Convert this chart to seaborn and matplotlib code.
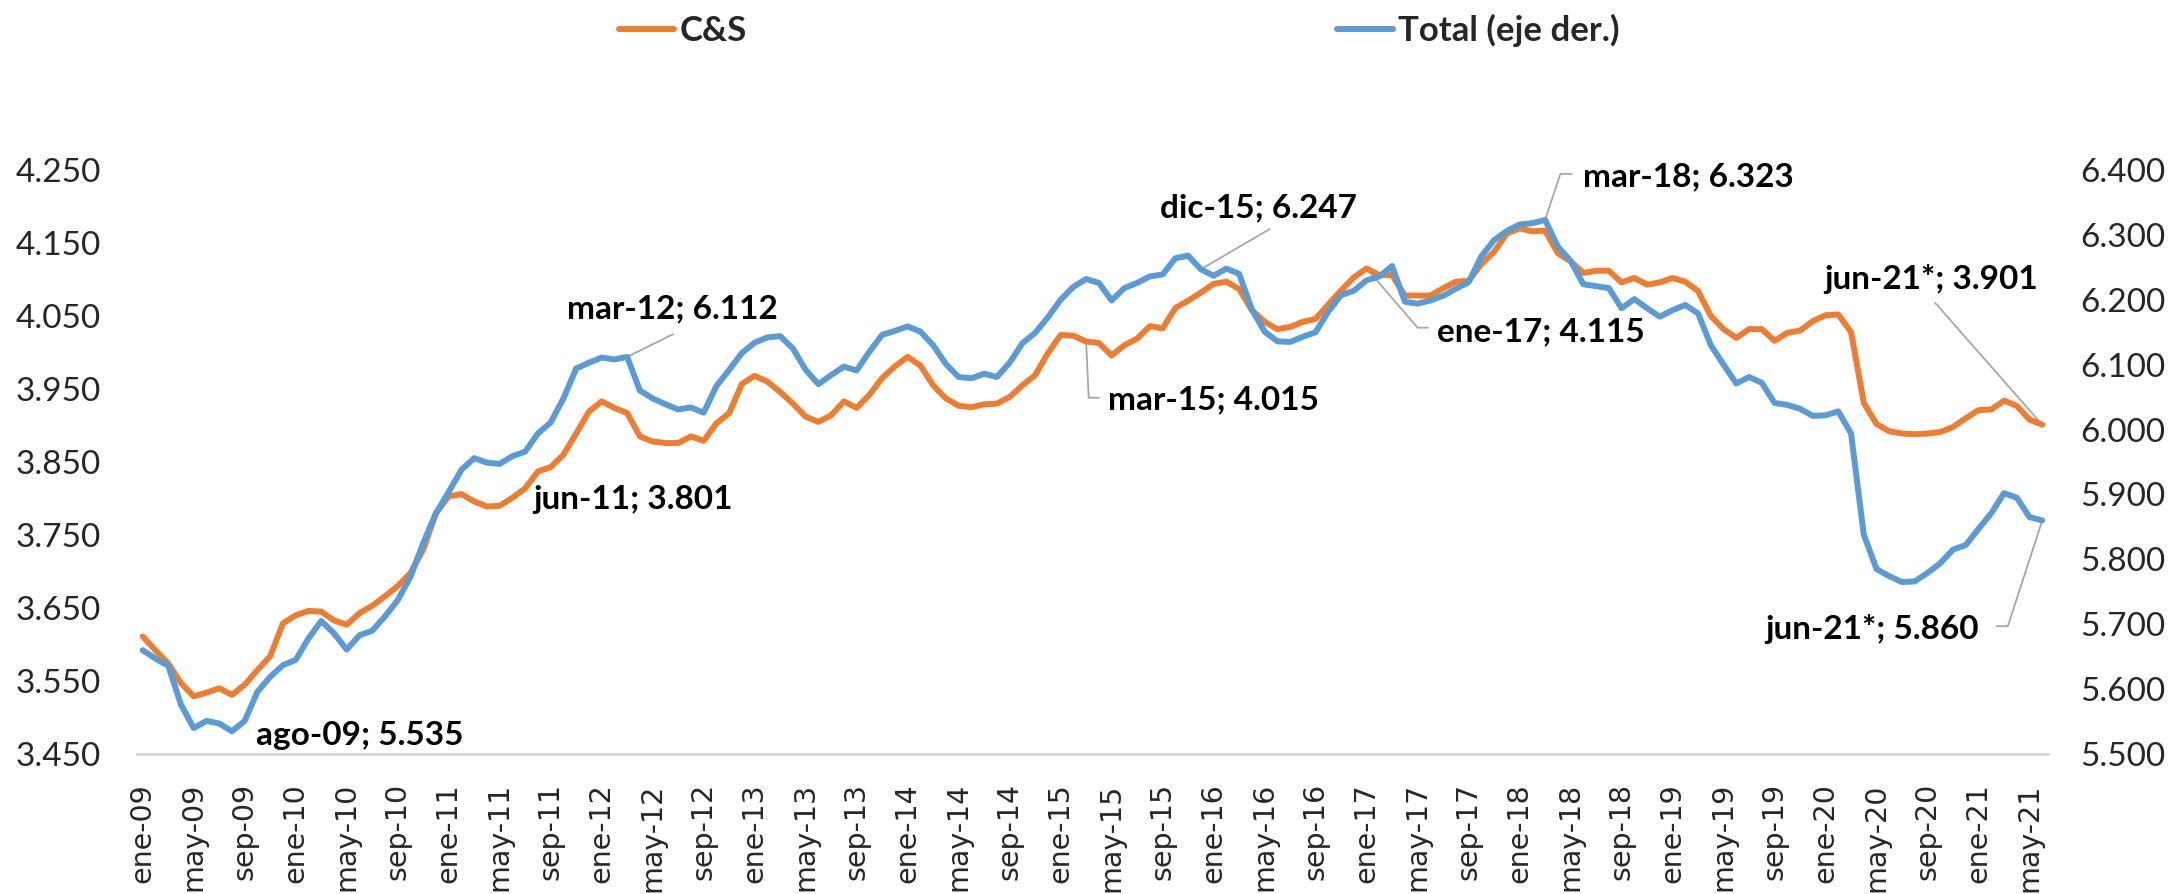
import matplotlib
matplotlib.use("Agg")
import matplotlib.pyplot as plt
import seaborn as sns
import pandas as pd

# etiquetas de meses (ene-09 ... jun-21)
meses = ['ene', 'feb', 'mar', 'abr', 'may', 'jun', 'jul', 'ago', 'sep', 'oct', 'nov', 'dic']
anios = list(range(2009, 2022))
fechas = [f"{m}-{str(a)[2:]}" for a in anios for m in meses][:150]

# C&S (eje izq.)
cs = [3.611, 3.592, 3.574, 3.547, 3.529, 3.534, 3.540, 3.531, 3.545, 3.565, 3.584, 3.629,
      3.640, 3.646, 3.645, 3.633, 3.627, 3.643, 3.653, 3.666, 3.680, 3.698, 3.730, 3.780,
      3.803, 3.806, 3.796, 3.789, 3.790, 3.801, 3.814, 3.837, 3.843, 3.860, 3.889, 3.919,
      3.933, 3.924, 3.917, 3.885, 3.878, 3.876, 3.876, 3.885, 3.879, 3.903, 3.917, 3.957,
      3.968, 3.960, 3.946, 3.930, 3.912, 3.905, 3.914, 3.933, 3.924, 3.942, 3.965, 3.981,
      3.994, 3.982, 3.955, 3.937, 3.927, 3.925, 3.929, 3.930, 3.939, 3.955, 3.969, 3.999,
      4.024, 4.023, 4.015, 4.013, 3.996, 4.010, 4.019, 4.036, 4.033, 4.061, 4.071, 4.082,
      4.094, 4.097, 4.087, 4.058, 4.042, 4.032, 4.035, 4.042, 4.046, 4.066, 4.085, 4.103,
      4.115, 4.106, 4.106, 4.078, 4.078, 4.078, 4.088, 4.097, 4.098, 4.121, 4.138, 4.163,
      4.170, 4.166, 4.167, 4.136, 4.125, 4.109, 4.112, 4.112, 4.096, 4.102, 4.093, 4.096,
      4.102, 4.097, 4.084, 4.050, 4.032, 4.020, 4.032, 4.032, 4.016, 4.027, 4.030, 4.043,
      4.051, 4.052, 4.028, 3.931, 3.902, 3.892, 3.889, 3.888, 3.889, 3.891, 3.898, 3.910,
      3.921, 3.922, 3.934, 3.927, 3.908, 3.901]

# Total (eje der.)
total = [5.660, 5.647, 5.636, 5.576, 5.540, 5.551, 5.547, 5.535, 5.551, 5.596, 5.619, 5.637,
         5.645, 5.678, 5.705, 5.686, 5.661, 5.683, 5.690, 5.712, 5.737, 5.773, 5.825, 5.871,
         5.904, 5.938, 5.956, 5.949, 5.947, 5.959, 5.966, 5.994, 6.011, 6.048, 6.094, 6.103,
         6.111, 6.108, 6.112, 6.060, 6.048, 6.039, 6.031, 6.034, 6.026, 6.067, 6.092, 6.118,
         6.134, 6.142, 6.144, 6.125, 6.092, 6.070, 6.084, 6.097, 6.091, 6.120, 6.146, 6.152,
         6.159, 6.151, 6.130, 6.101, 6.081, 6.079, 6.086, 6.081, 6.103, 6.133, 6.149, 6.173,
         6.200, 6.220, 6.232, 6.226, 6.199, 6.218, 6.226, 6.236, 6.239, 6.264, 6.268, 6.247,
         6.237, 6.248, 6.240, 6.185, 6.151, 6.136, 6.135, 6.143, 6.150, 6.182, 6.207, 6.214,
         6.230, 6.236, 6.252, 6.197, 6.194, 6.199, 6.206, 6.217, 6.227, 6.267, 6.292, 6.306,
         6.316, 6.318, 6.323, 6.282, 6.260, 6.224, 6.221, 6.218, 6.187, 6.201, 6.187, 6.174,
         6.184, 6.192, 6.179, 6.130, 6.100, 6.071, 6.081, 6.072, 6.041, 6.038, 6.032, 6.021,
         6.022, 6.028, 5.994, 5.838, 5.785, 5.774, 5.765, 5.766, 5.779, 5.794, 5.815, 5.822,
         5.847, 5.871, 5.902, 5.895, 5.865, 5.860]

df = pd.DataFrame({'mes': range(len(fechas)), 'C&S': cs, 'Total': total})

NARANJA = '#ED7D31'
AZUL = '#5B9BD5'
GRIS = '#A6A6A6'

sns.set_theme(style='white')
plt.rcParams['font.family'] = ['Lato', 'DejaVu Sans']

fig = plt.figure(figsize=(21.69, 8.94), dpi=100)
ax = fig.add_axes([137 / 2169, 140 / 894, 1911 / 2169, 584 / 894])
ax2 = ax.twinx()

sns.lineplot(data=df, x='mes', y='C&S', ax=ax, color=NARANJA, linewidth=4.3, label='C&S', legend=False)
sns.lineplot(data=df, x='mes', y='Total', ax=ax2, color=AZUL, linewidth=4.3, label='Total (eje der.)', legend=False)

ax.set_xlim(-0.45, 149.45)
ax.set_ylim(3.45, 4.25)
ax2.set_ylim(5.5, 6.4)

yl = [3.45 + 0.1 * k for k in range(9)]
yr = [5.5 + 0.1 * k for k in range(10)]
ax.set_yticks(yl)
ax.set_yticklabels([f"{v:.3f}" for v in yl])
ax2.set_yticks(yr)
ax2.set_yticklabels([f"{v:.3f}" for v in yr])
ax.set_xticks(df['mes'][::4])
ax.set_xticklabels(fechas[::4], rotation=90, family='DejaVu Sans', fontsize=20.5)

ax.tick_params(axis='y', length=0, pad=26, labelsize=24)
ax2.tick_params(axis='y', length=0, pad=23, labelsize=24)
ax.tick_params(axis='x', length=0, pad=21)
ax.set_xlabel('')
ax.set_ylabel('')
ax2.set_ylabel('')

for a in (ax, ax2):
    for s in a.spines.values():
        s.set_visible(False)
ax.spines['bottom'].set_visible(True)
ax.spines['bottom'].set_color('#D9D9D9')
ax.spines['bottom'].set_linewidth(2)

# etiquetas de datos: (eje, texto, x texto, y texto, guia)
etiquetas = [
    (ax2, 'ago-09; 5.535', 8.9, 5.529, []),
    (ax, 'jun-11; 3.801', 30.6, 3.798, []),
    (ax2, 'mar-12; 6.112', 33.3, 6.186, [(38, total[38]), (41.6, 6.147)]),
    (ax, 'mar-15; 4.015', 75.7, 3.935, [(74, cs[74]), (74.2, 3.938), (75.0, 3.938)]),
    (ax2, 'dic-15; 6.247', 79.8, 6.341, [(83, total[83]), (88.4, 6.309)]),
    (ax, 'ene-17; 4.115', 101.5, 4.028, [(96, cs[96]), (100.0, 4.034), (100.8, 4.034)]),
    (ax2, 'mar-18; 6.323', 113.0, 6.389, [(110, total[110]), (111.2, 6.394), (112.1, 6.394)]),
    (ax, 'jun-21*; 3.901', 131.9, 4.101, [(149, cs[149]), (140.6, 4.068)]),
    (ax2, 'jun-21*; 5.860', 127.3, 5.693, [(149, total[149]), (146.3, 5.697), (145.4, 5.697)]),
]
for eje, txt, tx, ty, guia in etiquetas:
    if guia:
        eje.plot([p[0] for p in guia], [p[1] for p in guia], color=GRIS, lw=1.3, zorder=1)
    eje.text(tx, ty, txt, ha='left', va='center', fontsize=24, fontweight='bold', color='black')

h1, l1 = ax.get_legend_handles_labels()
h2, l2 = ax2.get_legend_handles_labels()
fig.legend(h1 + h2, l1 + l2, loc='center', bbox_to_anchor=(0.516, 0.966), ncol=2, frameon=False,
           handlelength=1.6, handletextpad=0.15, columnspacing=17.0,
           prop={'weight': 'bold', 'size': 25})

fig.savefig('out.png', dpi=100)
